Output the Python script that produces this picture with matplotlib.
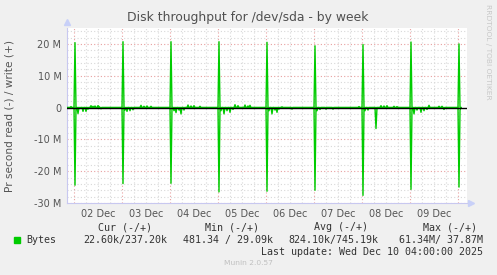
import numpy as np
import matplotlib.pyplot as plt

# time in hours from 02 Dec 00:00, values in MB/s
day_labels = ['02 Dec', '03 Dec', '04 Dec', '05 Dec', '06 Dec', '07 Dec', '08 Dec', '09 Dec']
spike_hours = [0.5, 24.5, 48.5, 72.5, 96.5, 120.5, 144.5, 168.5, 192.5]
write_peak = [20.4, 20.7, 20.7, 20.7, 20.5, 19.4, 19.8, 20.6, 20.0]
read_peak = [24.4, 23.9, 23.8, 26.5, 26.3, 26.0, 27.6, 25.7, 25.0]

# small write activity (hour, MB/s)
write_small = [(-1.5, 0.3), (8.5, 0.6), (9.5, 0.4), (10.5, 0.5), (12, 0.6), (12.5, 0.3),
               (33.5, 0.7), (35, 0.4), (36.5, 0.5), (38.5, 0.4),
               (57, 0.8), (58.5, 0.5), (60, 0.6), (63, 0.4),
               (80.5, 0.9), (82, 0.6), (85.5, 0.8), (87, 0.5), (88, 0.7),
               (104, 0.2), (142.5, 0.3),
               (153.5, 0.6), (155, 0.5), (156.5, 0.6), (160, 0.4), (161.5, 0.3),
               (177.5, 0.7), (182.5, 0.4), (184, 0.4)]
# small read activity (hour, MB/s)
read_small = [(2, 1.9), (3, 0.3), (4.5, 1.2), (6, 1.2), (7, 0.5), (13.5, 0.4),
              (25.5, 0.8), (26.5, 1.2), (28, 1.0), (29.5, 0.7),
              (50, 1.0), (51, 1.6), (52.5, 0.8), (53.5, 2.0), (55, 0.8),
              (73.5, 1.0), (75, 2.0), (76.5, 1.0), (78, 1.5), (79.5, 0.6),
              (97.5, 1.0), (99, 2.0), (100.5, 0.8), (101.5, 1.5), (102.5, 0.5), (109, 0.5),
              (121.5, 1.0), (123, 0.6), (126, 0.5), (129.5, 0.5),
              (145.5, 1.0), (147, 0.8), (151, 6.6),
              (170, 2.0), (171.5, 0.8), (173.5, 1.5), (175, 1.0), (176.5, 0.6), (185, 0.6),
              (193, 0.8)]

t = np.arange(-3.5, 193.51, 0.5)

def build(peaks, small):
    v = np.zeros_like(t)
    for h, val in list(zip(spike_hours, peaks)) + small:
        v[np.argmin(np.abs(t - h))] = val
    return v

write = build(write_peak, write_small)
read = -build(read_peak, read_small)

fig = plt.figure(figsize=(4.97, 2.75), dpi=100)
fig.patch.set_facecolor('#f0f0f0')
ax = fig.add_axes([67/497, 72/275, 400/497, 175/275])
ax.set_facecolor('white')

x0, x1 = -3.5, 196.5
ax.set_xlim(x0, x1)
ax.set_ylim(-30, 25)

# grid
for h in np.arange(-0, 197, 6):
    if h % 24:
        ax.axvline(h, color='#d8d8d8', lw=0.8, ls=(0, (1, 2)), zorder=0)
for y in np.arange(-28, 25, 2):
    if y % 10:
        ax.axhline(y, color='#d8d8d8', lw=0.8, ls=(0, (1, 2)), zorder=0)
for h in np.arange(0, 197, 24):
    ax.axvline(h, color='#e8a0a0', lw=0.8, ls=(0, (1, 2)), zorder=0)
for y in [-30, -20, -10, 10, 20]:
    ax.axhline(y, color='#e8a0a0', lw=0.8, ls=(0, (1, 2)), zorder=0)

ax.plot(t, write, color='#00cc00', lw=1.0, zorder=3)
ax.plot(t, read, color='#00cc00', lw=1.0, zorder=3)
ax.axhline(0, color='black', lw=1.0, zorder=4)

for s in ['top', 'right']:
    ax.spines[s].set_visible(False)
for s in ['left', 'bottom']:
    ax.spines[s].set_color('#c8c8f0')
    ax.spines[s].set_linewidth(0.8)
ax.plot([x0], [26.8], marker='^', color='#c8d0f8', ms=5, clip_on=False)
ax.plot([198.3], [-30], marker='>', color='#c8d0f8', ms=5, clip_on=False)

ax.set_yticks([-30, -20, -10, 0, 10, 20])
ax.set_yticklabels(['-30 M', '-20 M', '-10 M', '0', '10 M', '20 M'])
ax.set_xticks([12 + 24*i for i in range(len(day_labels))])
ax.set_xticklabels(day_labels)
ax.tick_params(axis='both', length=0, labelsize=7, labelcolor='#555555', pad=4)

fig.text(248/497, 1 - 18/275, 'Disk throughput for /dev/sda - by week',
         ha='center', va='center', fontsize=8.9, color='#505050')
fig.text(10/497, 1 - 116/275, 'Pr second read (-) / write (+)', rotation=90,
         ha='center', va='center', fontsize=7.6, color='#555555')
fig.text(488/497, 1 - 52/275, 'RRDTOOL / TOBI OETIKER', rotation=270,
         ha='center', va='center', fontsize=5.4, color='#c8c8c8')

mono = dict(family='DejaVu Sans Mono', fontsize=7.2, color='#333333', va='center')
fig.text(125/497, 1 - 227/275, 'Cur (-/+)', ha='center', **mono)
fig.text(232/497, 1 - 227/275, 'Min (-/+)', ha='center', **mono)
fig.text(341/497, 1 - 227/275, 'Avg (-/+)', ha='center', **mono)
fig.text(450/497, 1 - 227/275, 'Max (-/+)', ha='center', **mono)
fig.patches.append(plt.Rectangle((14/497, 1 - 243/275), 6/497, 6/275,
                                 transform=fig.transFigure, color='#00cc00'))
fig.text(26/497, 1 - 240/275, 'Bytes', ha='left', **mono)
fig.text(167/497, 1 - 240/275, '22.60k/237.20k', ha='right', **mono)
fig.text(273/497, 1 - 240/275, '481.34 / 29.09k', ha='right', **mono)
fig.text(378/497, 1 - 240/275, '824.10k/745.19k', ha='right', **mono)
fig.text(483/497, 1 - 240/275, '61.34M/ 37.87M', ha='right', **mono)
fig.text(483/497, 1 - 252/275, 'Last update: Wed Dec 10 04:00:00 2025', ha='right', **mono)
fig.text(248/497, 1 - 263/275, 'Munin 2.0.57', ha='center', va='center',
         fontsize=5.4, color='#c0c0c0')

fig.savefig('out.png', dpi=100, facecolor=fig.get_facecolor())
